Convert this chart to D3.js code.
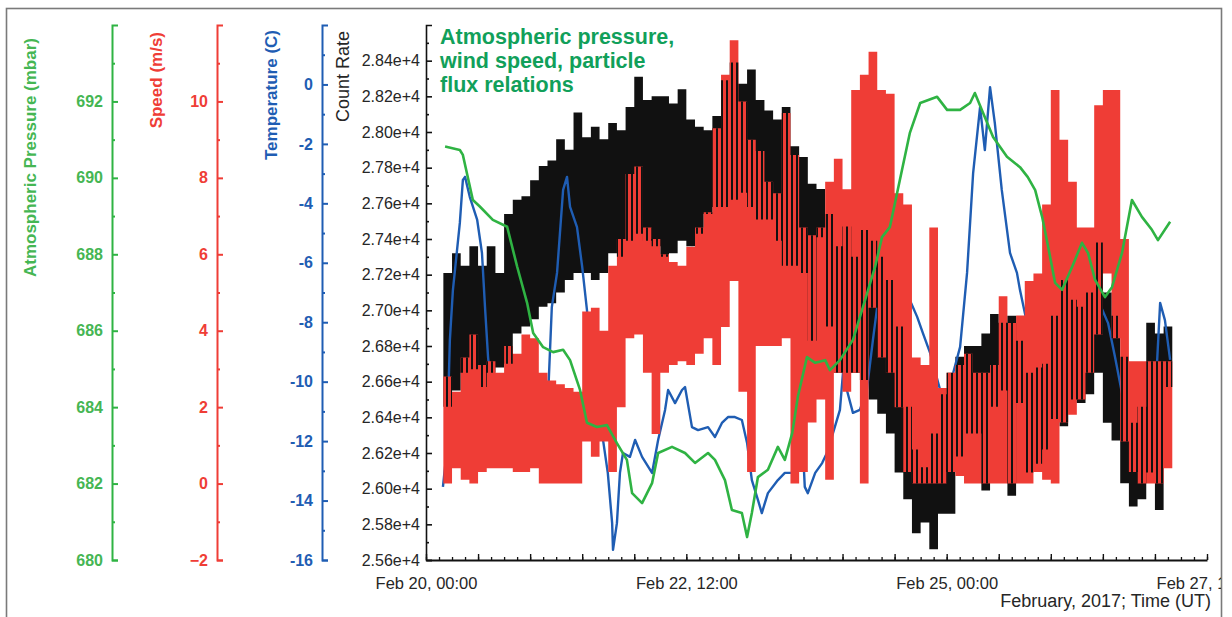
<!DOCTYPE html>
<html>
<head>
<meta charset="utf-8">
<script src="https://cdn.jsdelivr.net/npm/d3@7"></script>
<style>
  html, body { margin: 0; padding: 0; background: #ffffff; }
  svg text { font-family: "Liberation Sans", Arial, Helvetica, sans-serif; }
</style>
</head>
<body>
<svg id="chart" width="1232" height="617"></svg>
<script>
// ---- Data: hours are counted from 2017-02-20 00:00 UT ----

// Atmospheric pressure (mbar)
const pressureHours = [4.4,7.8,8.5,10.8,12.4,15.4,18.7,21.0,23.3,24.7,27.0,29.3,31.6,33.2,35.5,37.1,39.4,41.7,44.0,46.3,
  47.5,49.8,52.1,53.5,56.7,59.7,62.0,65.0,66.6,68.9,70.5,72.8,74.0,75.1,76.5,78.8,81.1,82.7,84.4,85.7,
  87.8,89.7,92.0,93.1,95.4,98.4,100.7,103.5,105.1,106.9,109.2,111.5,113.9,117.8,120.1,123.1,125.4,126.5,128.4,130.7,
  133.9,136.9,138.7,140.4,142.0,143.4,145.0,146.6,148.9,151.2,152.6,154.2,156.5,158.1,160.4,162.7,165.0,167.3,168.7,171.5];
const pressureMbar = [690.82,690.73,690.60,689.42,689.25,688.90,688.72,687.68,686.73,685.94,685.57,685.44,685.50,685.23,684.45,683.59,683.48,683.53,683.06,682.62,
  681.75,681.49,682.01,682.80,682.96,682.80,682.54,682.80,682.62,682.09,681.31,681.23,680.60,681.23,682.17,682.36,682.96,682.62,683.32,684.27,
  685.31,685.16,685.23,684.97,685.23,685.76,686.62,687.67,688.45,688.71,689.94,691.17,691.96,692.12,691.78,691.78,691.96,692.22,691.70,691.07,
  690.55,690.28,690.02,689.68,688.98,688.19,687.25,687.07,687.67,688.30,688.03,687.33,686.88,687.14,688.03,689.42,688.98,688.64,688.37,688.85];

// Air temperature (C)
const temperatureHours = [3.9,4.8,5.5,6.2,7.8,8.5,9.0,10.1,11.8,12.9,13.6,14.3,15.2,22.4,24.0,25.6,28.1,29.0,30.2,31.6,
  32.5,33.2,34.8,36.0,37.1,39.4,40.8,41.9,42.9,43.1,44.0,44.7,45.4,47.0,48.2,49.8,52.1,53.5,55.1,55.8,
  57.4,59.0,59.7,61.3,62.7,65.0,66.6,68.2,69.6,71.2,72.8,74.0,75.1,76.5,77.4,78.8,81.1,82.7,84.4,85.7,
  86.7,87.3,88.0,89.7,91.3,92.4,93.8,95.4,96.1,97.0,98.4,100.0,101.6,103.0,104.2,106.2,107.6,111.5,113.2,114.5,
  116.2,118.5,120.1,121.5,123.1,124.7,126.1,127.7,128.8,130.0,131.1,132.7,134.6,136.2,136.9,138.7,143.4,144.3,146.6,148.9,
  149.6,151.2,152.6,154.9,157.2,158.8,160.4,166.4,168.0,169.2,170.3,171.5];
const temperatureC = [-13.54,-12.30,-8.60,-6.92,-4.66,-3.21,-3.11,-3.79,-4.56,-5.67,-7.49,-9.17,-10.52,-12.53,-11.73,-11.19,-10.62,-7.49,-6.34,-3.55,
  -3.11,-4.12,-4.80,-6.14,-7.59,-11.63,-11.96,-13.07,-14.76,-15.66,-14.76,-13.07,-12.40,-12.53,-11.96,-12.53,-13.07,-11.96,-10.95,-10.28,
  -10.72,-10.28,-10.18,-11.53,-11.63,-11.53,-11.86,-11.39,-11.19,-11.19,-11.29,-12.06,-13.31,-13.98,-14.42,-13.75,-13.31,-13.07,-13.07,-12.87,
  -11.73,-13.54,-13.75,-13.07,-12.74,-12.40,-11.73,-10.95,-9.71,-10.28,-11.05,-10.95,-10.28,-8.60,-7.25,-6.58,-6.14,-7.25,-7.82,-8.36,
  -9.04,-10.28,-10.52,-9.71,-8.83,-6.34,-2.98,-0.76,-2.21,-0.09,-1.30,-3.55,-5.67,-6.34,-6.92,-8.16,-9.27,-8.93,-8.83,-8.60,
  -6.58,-5.81,-6.34,-7.25,-8.03,-9.17,-10.38,-9.51,-10.72,-7.35,-7.93,-9.27];

// Particle count rate and wind speed: upper / lower swing in each 2-hour bin
const binStartHour = 4;
const binHours = 2;
const countRateHigh = [27210,27320,27250,27360,27250,27360,27210,27540,27620,27640,
  27730,27810,27840,27960,27900,28110,27970,28030,27960,28050,
  28010,28140,28310,28180,28200,28200,28160,28240,28070,28030,
  28010,28090,28290,28390,28270,28350,28180,28120,28070,28140,
  27920,27860,27710,27680,27540,27360,27470,27300,27450,27390,
  27300,27170,26910,26460,26220,26120,26310,26530,26650,26740,
  26800,26800,26870,26980,26930,26970,26830,26650,26680,26700,
  26970,27170,27060,27020,27100,27380,27100,26970,26740,26370,
  26460,26930,26870,26910];
const countRateLow = [26460,26550,26650,26670,26570,26650,26680,26700,26870,26910,
  26950,27020,27040,27100,27170,27210,27210,27170,27210,27320,
  27300,27390,27430,27390,27360,27300,27320,27390,27360,27430,
  27540,27580,27580,27620,27660,27580,27510,27510,27390,27250,
  27250,27210,26830,27410,26910,26650,26650,26650,26610,26500,
  26420,26310,26090,25940,25750,25810,25660,25860,25860,26180,
  26310,26310,25990,26460,26550,25960,26480,26090,26140,26220,
  26390,26350,26500,26480,26530,26650,26370,26270,26030,25900,
  25940,26090,25880,26570];
const windHigh = [2.8,2.4,3.3,3.9,3.1,3.2,2.9,3.6,3.4,3.9,
  3.8,2.9,2.7,2.6,2.5,2.4,4.5,4.6,4.0,5.7,
  6.4,8.1,8.3,6.7,6.4,6.0,5.8,5.7,6.2,6.7,
  7.1,9.3,10.7,11.6,10.0,9.0,8.7,7.9,7.6,9.7,
  8.6,6.7,6.5,6.7,7.9,8.5,7.7,10.3,10.7,11.3,
  10.3,10.2,7.6,7.3,3.3,3.1,6.7,2.5,2.9,3.1,
  3.4,2.9,2.9,3.1,4.9,4.2,4.4,5.3,5.5,7.3,
  10.3,9.0,7.9,6.7,6.7,9.9,10.3,10.3,6.4,3.2,
  3.2,3.2,3.2,3.2];
const windLow = [0.0,0.4,0.1,0.0,0.3,0.4,0.4,0.4,0.3,0.3,
  0.4,0.0,0.0,0.0,0.0,0.0,1.1,0.7,1.1,0.3,
  2.0,3.8,3.9,2.9,1.3,2.9,3.1,3.2,3.1,3.4,
  3.8,3.1,4.1,5.3,2.4,0.3,3.6,3.6,3.6,3.8,
  0.0,0.3,1.6,2.2,0.1,2.9,2.4,2.9,0.0,4.6,
  3.3,2.9,2.0,0.3,0.0,0.0,0.0,0.0,0.3,0.2,
  0.0,0.0,0.0,0.0,0.0,0.0,0.0,0.0,0.3,0.1,
  0.0,1.6,1.8,2.2,2.9,3.9,5.5,3.8,1.1,0.3,
  0.0,0.0,0.0,0.4];

// Axis ticks and labels
const timeTickHours = [0, 60, 120, 180];
const timeTickLabels = ["Feb 20, 00:00", "Feb 22, 12:00", "Feb 25, 00:00", "Feb 27, 12:00"];
const pressureTicks = [680, 682, 684, 686, 688, 690, 692];
const windTicks = [-2, 0, 2, 4, 6, 8, 10];
const temperatureTicks = [-16, -14, -12, -10, -8, -6, -4, -2, 0];
const countTicks = [25600,25800,26000,26200,26400,26600,26800,27000,27200,27400,27600,27800,28000,28200,28400];

// ---- Layout ----
const svg = d3.select("#chart");
const plot = { left: 426, right: 1207, top: 25, bottom: 560 };
const frame = { x: 6, y: 8, w: 1215, h: 640 };

const colors = {
  pressure: "#2fb343",
  pressureText: "#45b653",
  wind: "#ef3d36",
  temperature: "#1f5db3",
  count: "#111111",
  title: "#11a05a",
  frame: "#7a7a7a",
  text: "#262626"
};

const t0 = Date.UTC(2017, 1, 20);
const at = h => new Date(t0 + h * 3600e3);

const x = d3.scaleUtc().domain([at(0), at(180)]).range([plot.left, plot.right]);
const yCount = d3.scaleLinear().domain([25600, 28600]).range([plot.bottom, plot.top]);
const yPressure = d3.scaleLinear().domain([680, 694]).range([plot.bottom, plot.top]);
const yWind = d3.scaleLinear().domain([-2, 12]).range([plot.bottom, plot.top]);
const yTemp = d3.scaleLinear().domain([-16, 2]).range([plot.bottom, plot.top]);

// Swing range of a fast-varying record, one step per 2-hour bin
function binRanges(high, low) {
  const rows = high.map((hi, i) => ({ h: binStartHour + i * binHours, hi, lo: low[i] }));
  const last = rows[rows.length - 1];
  rows.push({ h: last.h + binHours, hi: last.hi, lo: last.lo });
  return rows;
}
const countBand = d3.area().curve(d3.curveStepAfter)
  .x(d => x(at(d.h))).y0(d => yCount(d.lo)).y1(d => yCount(d.hi));
const windBand = d3.area().curve(d3.curveStepAfter)
  .x(d => x(at(d.h))).y0(d => yWind(d.lo)).y1(d => yWind(d.hi));
const countRows = binRanges(countRateHigh, countRateLow);
const windRows = binRanges(windHigh, windLow);

const defs = svg.append("defs");
defs.append("clipPath").attr("id", "frame-clip")
  .append("rect").attr("x", frame.x).attr("y", frame.y).attr("width", frame.w).attr("height", frame.h);
defs.append("clipPath").attr("id", "plot-clip")
  .append("rect").attr("x", plot.left).attr("y", plot.top)
  .attr("width", plot.right - plot.left).attr("height", plot.bottom - plot.top);
// Where the two dense records overlap, the count-rate trace shows through in thin strokes
defs.append("clipPath").attr("id", "wind-clip")
  .append("path").attr("d", windBand(windRows));
const countTexture = defs.append("pattern").attr("id", "count-texture")
  .attr("patternUnits", "userSpaceOnUse").attr("width", 5).attr("height", 10);
countTexture.append("rect").attr("x", 1).attr("y", 0).attr("width", 2).attr("height", 10).attr("fill", colors.count);

// Outer frame
svg.append("rect")
  .attr("x", frame.x + 0.5).attr("y", frame.y + 0.5)
  .attr("width", frame.w).attr("height", frame.h)
  .attr("fill", "#ffffff").attr("stroke", colors.frame).attr("stroke-width", 1.6);

const root = svg.append("g").attr("clip-path", "url(#frame-clip)");

// ---- Series ----
const series = root.append("g").attr("clip-path", "url(#plot-clip)");

series.append("path").attr("d", countBand(countRows)).attr("fill", colors.count);

const tempLine = d3.line().x(d => x(at(d[0]))).y(d => yTemp(d[1]));
series.append("path")
  .attr("d", tempLine(d3.zip(temperatureHours, temperatureC)))
  .attr("fill", "none").attr("stroke", colors.temperature)
  .attr("stroke-width", 2.4).attr("stroke-linejoin", "round");

series.append("path").attr("d", windBand(windRows)).attr("fill", colors.wind);
series.append("g").attr("clip-path", "url(#wind-clip)")
  .append("path").attr("d", countBand(countRows)).attr("fill", "url(#count-texture)");

const pressureLine = d3.line().x(d => x(at(d[0]))).y(d => yPressure(d[1]));
series.append("path")
  .attr("d", pressureLine(d3.zip(pressureHours, pressureMbar)))
  .attr("fill", "none").attr("stroke", colors.pressure)
  .attr("stroke-width", 2.6).attr("stroke-linejoin", "round");

// ---- Time axis ----
const xAxisG = root.append("g").attr("transform", `translate(0,${plot.bottom})`);
xAxisG.call(d3.axisBottom(x).tickValues(d3.range(0, 181, 3).map(at)).tickSize(-3).tickSizeOuter(0).tickFormat(""));
xAxisG.selectAll(".tick line").attr("stroke", colors.count).attr("stroke-width", 1.3);
xAxisG.select(".domain").attr("stroke", colors.count).attr("stroke-width", 1.8);
const xMajor = root.append("g").attr("transform", `translate(0,${plot.bottom})`);
xMajor.call(d3.axisBottom(x).tickValues(d3.range(0, 181, 12).map(at)).tickSize(-6).tickSizeOuter(0).tickFormat(""));
xMajor.select(".domain").remove();
xMajor.selectAll(".tick line").attr("stroke", colors.count).attr("stroke-width", 1.4);

const xLabels = root.append("g").attr("transform", `translate(0,${plot.bottom})`);
xLabels.call(d3.axisBottom(x).tickValues(timeTickHours.map(at)).tickSize(0).tickPadding(17)
  .tickFormat((d, i) => timeTickLabels[i]));
xLabels.select(".domain").remove();
xLabels.selectAll("text").attr("font-size", 16.5).attr("fill", colors.text)
  .attr("font-family", "'Liberation Sans', Arial, sans-serif");

root.append("text")
  .attr("x", 1211).attr("y", 607)
  .attr("text-anchor", "end").attr("font-size", 18).attr("fill", colors.text)
  .text("February, 2017; Time (UT)");

// ---- Vertical axes ----
function verticalAxis(opts) {
  const g = root.append("g").attr("transform", `translate(${opts.x},0)`);
  const major = d3.axisLeft(opts.scale).tickValues(opts.ticks)
    .tickSizeInner(-opts.majorLen).tickSizeOuter(-opts.majorLen)
    .tickPadding(opts.pad).tickFormat(opts.format);
  g.call(major);
  g.select(".domain").attr("stroke", opts.color).attr("stroke-width", opts.width);
  g.selectAll(".tick line").attr("stroke", opts.color).attr("stroke-width", opts.width);
  g.selectAll(".tick text")
    .attr("fill", opts.textColor || opts.color)
    .attr("font-size", opts.fontSize)
    .attr("font-weight", opts.weight || "normal")
    .attr("font-family", "'Liberation Sans', Arial, sans-serif");

  const minorG = root.append("g").attr("transform", `translate(${opts.x},0)`);
  minorG.call(d3.axisLeft(opts.scale).tickValues(opts.minor).tickSize(-3).tickSizeOuter(0).tickFormat(""));
  minorG.select(".domain").remove();
  minorG.selectAll(".tick line").attr("stroke", opts.color).attr("stroke-width", opts.width);

  root.append("text")
    .attr("transform", `translate(${opts.titleX},${opts.titleTop}) rotate(-90)`)
    .attr("text-anchor", "end")
    .attr("dy", "0.35em")
    .attr("font-size", opts.titleSize)
    .attr("font-weight", opts.titleWeight || "normal")
    .attr("fill", opts.textColor || opts.color)
    .text(opts.title);
}

verticalAxis({
  x: 112, scale: yPressure, ticks: pressureTicks, minor: d3.range(681, 694, 2),
  color: colors.pressure, textColor: colors.pressureText, width: 2, majorLen: 6, pad: 9,
  format: d3.format("d"), fontSize: 16, weight: "bold",
  title: "Atmospheric Pressure (mbar)", titleX: 30, titleTop: 38, titleSize: 17, titleWeight: "bold"
});
verticalAxis({
  x: 217, scale: yWind, ticks: windTicks, minor: d3.range(-1, 12, 2),
  color: colors.wind, width: 2, majorLen: 6, pad: 9,
  format: d3.format("d"), fontSize: 16, weight: "bold",
  title: "Speed (m/s)", titleX: 156, titleTop: 32, titleSize: 17, titleWeight: "bold"
});
verticalAxis({
  x: 322, scale: yTemp, ticks: temperatureTicks, minor: d3.range(-15, 2, 2),
  color: colors.temperature, width: 2, majorLen: 6, pad: 9,
  format: d => String(d), fontSize: 16, weight: "bold",
  title: "Temperature (C)", titleX: 271, titleTop: 30, titleSize: 17, titleWeight: "bold"
});
verticalAxis({
  x: plot.left, scale: yCount, ticks: countTicks, minor: d3.range(25700, 28600, 200),
  color: colors.count, textColor: colors.text, width: 1.6, majorLen: 6, pad: 6,
  format: d => (d / 1e4).toFixed(2) + "e+4", fontSize: 16,
  title: "Count Rate", titleX: 343, titleTop: 31, titleSize: 18
});

// ---- Title ----
const titleLines = ["Atmospheric pressure,", "wind speed, particle", "flux relations"];
root.append("text")
  .attr("x", 440).attr("y", 44)
  .attr("font-size", 21.5).attr("font-weight", "bold").attr("fill", colors.title)
  .selectAll("tspan").data(titleLines).join("tspan")
  .attr("x", 440).attr("dy", (d, i) => i === 0 ? 0 : 24)
  .text(d => d);
</script>
</body>
</html>
